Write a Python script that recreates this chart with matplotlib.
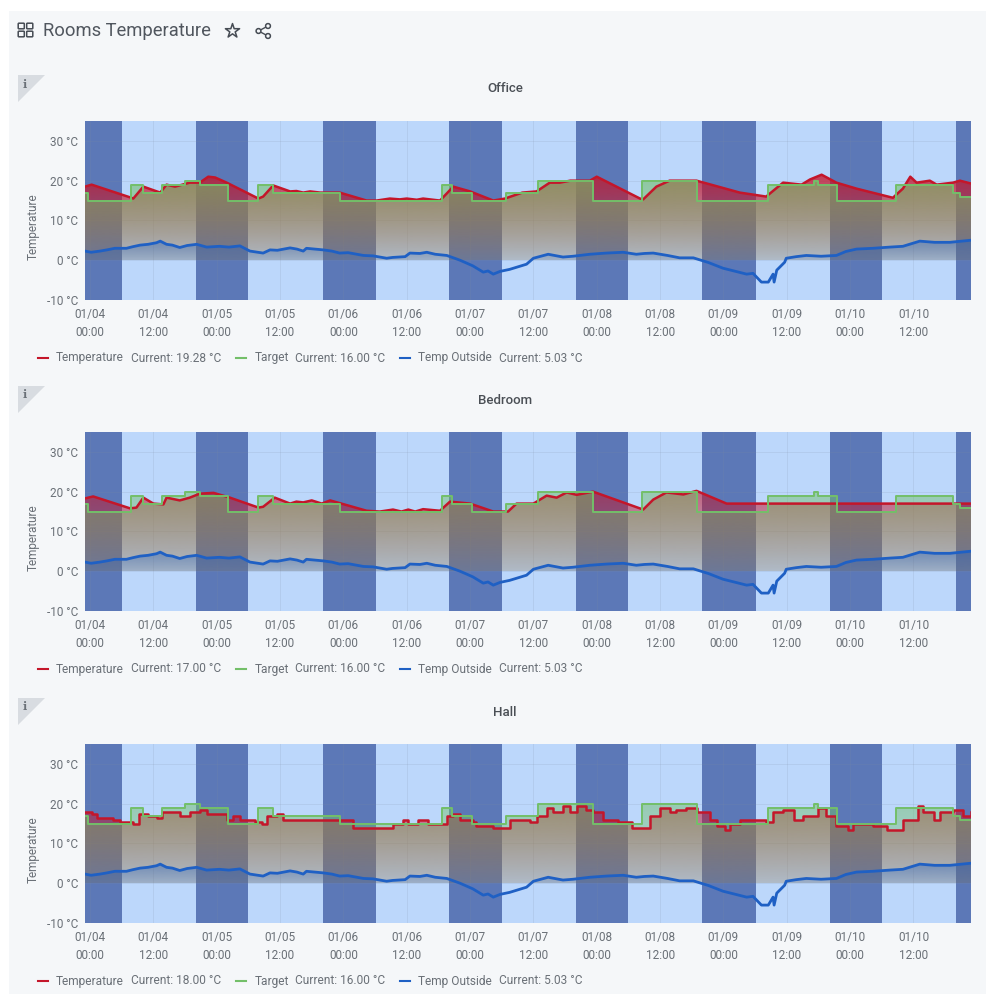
import numpy as np
from matplotlib import pyplot as plt
from matplotlib.patches import Rectangle, Polygon, FancyBboxPatch, Circle
from matplotlib.path import Path
from matplotlib.colors import to_rgb

plt.rcParams['font.family'] = ['Roboto', 'DejaVu Sans']

# all times are hours after 01/04 00:00
tick_hours = [0, 12, 24, 36, 48, 60, 72, 84, 96, 108, 120, 132, 144, 156]
tick_labels = ['01/04\n00:00', '01/04\n12:00', '01/05\n00:00', '01/05\n12:00', '01/06\n00:00',
               '01/06\n12:00', '01/07\n00:00', '01/07\n12:00', '01/08\n00:00', '01/08\n12:00',
               '01/09\n00:00', '01/09\n12:00', '01/10\n00:00', '01/10\n12:00']
night_start = [-3.9, 20.1, 44.1, 68.1, 92.1, 116.0, 140.1, 164.1]
night_end = [6.1, 30.0, 54.1, 78.0, 102.0, 126.1, 150.0, 174.0]

target_t = [-0.95, -0.3, 7.7, 10.1, 13.6, 18, 20.8, 26.2, 31.9, 34.7, 47.3, 66.6, 68.5, 72.3, 78.8,
            84.9, 95.3, 104.5, 114.9, 128.5, 137.1, 138, 141.5, 152.7, 163.5, 164.8, 166.9]
target_v = [16.8, 15, 19, 17, 19, 20, 19, 15, 19, 17, 15, 19, 17, 15, 17,
            20, 15, 20, 15, 19, 20, 19, 15, 19, 17, 16, 16]

outside_t = [-0.95, 0.2, 1.9, 3.2, 4.7, 6.9, 8.1, 9.5, 11, 12.6, 13.3, 14.5, 15.6, 17, 18.4, 20.2, 22.1,
             24.5, 26.3, 28.4, 30.3, 32.8, 34.1, 35.5, 37.9, 39.2, 40.4, 41, 44.2, 45.8, 47.3, 48.9,
             51.8, 53.6, 56.2, 57.3, 59.7, 60.6, 62.5, 63.8, 65.4, 67.6, 70.1, 72.5, 74.5, 75.4, 76.4,
             77.7, 79.5, 82.7, 84, 86.8, 89.6, 91.5, 94.7, 97.8, 101, 103.5, 105, 106.7, 109.4, 111.7,
             114.3, 117.2, 119.9, 122.3, 124.4, 125.6, 127.2, 128.5, 129.4, 129.6, 130.1, 131.6, 131.9,
             133.8, 135.7, 138.5, 141.4, 143.2, 145.2, 148.3, 151.5, 154, 157.2, 160, 162.9, 166.9]
outside_v = [2.3, 2, 2.3, 2.6, 3, 3, 3.4, 3.8, 4, 4.4, 4.8, 4, 3.8, 3.2, 3.7, 4, 3.3,
             3.5, 3.3, 3.6, 2.3, 1.8, 2.6, 2.5, 3.1, 2.8, 2.3, 3, 2.6, 2.3, 1.8, 1.9,
             1.2, 1.1, 0.5, 0.7, 0.9, 1.8, 1.7, 2, 1.5, 1.2, 0, -1.4, -3, -2.7, -3.5,
             -2.8, -2.3, -1, 0.5, 1.5, 0.8, 1, 1.5, 1.8, 2, 1.5, 1.7, 1.8, 1.2, 0.6,
             0.6, -0.6, -2, -2.8, -3.5, -3.3, -5.5, -5.5, -3.5, -5.5, -2.5, -0.5, 0.5,
             0.9, 1.2, 1, 1.2, 2.2, 2.8, 3, 3.3, 3.5, 4.8, 4.5, 4.5, 5.03]

office_t = [-0.95, 0.3, 7.6, 8.2, 10.1, 13.3, 14.5, 16.1, 18.9, 20.8, 22.4, 23.7, 25.9, 31.9, 32.8,
            34.7, 37.9, 39.1, 40.4, 41.7, 43.6, 47.3, 52.4, 54.3, 56.8, 58.7, 60, 61.9, 63.1, 66.3,
            67.6, 68.8, 72, 76.4, 78.6, 81.9, 84.6, 87.1, 89, 91, 94.7, 96, 104.2, 104.8, 107.3,
            109.8, 114.9, 123.1, 128.1, 131.3, 134.8, 136.4, 138.6, 141.4, 145.2, 152.1, 154, 155.4,
            156.6, 159.1, 160.4, 163.5, 164.8, 166.9]
office_v = [18.5, 19, 15.8, 15.5, 18.5, 17, 19, 18.5, 19.5, 19.5, 21, 20.8, 19.5, 15.5, 16,
            18.8, 17.3, 17.4, 17, 17.3, 17, 17, 15, 15, 15.5, 15.3, 15.5, 15.2, 15.5, 15,
            16.8, 18.5, 17.3, 15, 15.5, 17, 17.3, 19.5, 19.5, 20, 20, 21, 15.5, 15.3, 18.5,
            20, 20, 17, 16, 19.5, 19, 20.3, 21.5, 19.5, 18, 15.7, 18, 21,
            19.5, 20, 19, 19.5, 20, 19.28]

bedroom_t = [-0.95, 0.6, 7.6, 8.8, 10.1, 12, 13.9, 14.5, 17, 18.9, 20.8, 23.4, 26.5, 31.9, 32.8,
             35, 37.9, 39.1, 40.4, 42, 43.9, 45.5, 52.4, 54.9, 57.4, 59, 60.3, 61.6, 63.1, 66.3,
             68.2, 72, 76.4, 78.6, 79.2, 80.8, 84, 86.5, 88.4, 90.3, 92.2, 95.3, 104.8, 106.7,
             109.2, 112.4, 114.9, 120.6, 166.9]
bedroom_v = [18.3, 18.8, 15.8, 16, 18.5, 17, 16.8, 18.5, 17.8, 18.5, 19.5, 19.7, 18.5, 16, 16.2,
             18.5, 17, 17.5, 17.3, 17.8, 17, 17.8, 15.2, 15, 15.5, 15, 15.5, 15, 15.6, 15.2,
             17.5, 17, 15, 15, 15, 17, 17, 19, 18.5, 19.8, 19.2, 20, 15.5, 18,
             19.8, 19.3, 20.2, 17, 17]

hall_t = [-0.95, 0.3, 1.3, 4.4, 5.7, 8.2, 9.2, 11, 12.6, 13.6, 15.2, 17, 18.9, 20.8, 22.1, 24, 25.9,
          27.1, 28.4, 31.3, 32.5, 33.5, 35.4, 36.6, 47.3, 49.9, 56.2, 57.4, 59.3, 60.3, 62.2, 64.1,
          66.3, 67.6, 68.8, 70.1, 72.6, 73.2, 76.4, 78.6, 79.5, 83.3, 84.6, 86.5, 87.8, 89.6, 90.9,
          92.2, 94, 95.3, 97.2, 100, 102.6, 104.8, 106.1, 108, 109.8, 111.1, 113, 114.9, 117.4, 118.7,
          120.3, 121.2, 123.1, 126.9, 128.1, 129.4, 131.3, 133.3, 135, 137.9, 139.5, 141.4, 143.6,
          144.6, 148.4, 150.9, 153.1, 154, 156.9, 157.9, 159.8, 161, 163.5, 165.4, 166.9]
hall_v = [18, 17.5, 16.5, 16, 15.5, 15, 17.5, 17, 16.5, 18, 18, 17, 18, 18.5, 17.5, 17.5, 16,
          17, 16, 15.5, 15, 17, 17.5, 16, 16, 14, 14, 15, 16, 15, 16, 15,
          15, 17, 17.5, 16, 15.5, 14.5, 14, 14, 16, 15.5, 17, 19, 18, 19.5, 18,
          19.5, 18.5, 18, 16, 15.5, 14, 14, 17, 19, 18, 18.5, 19, 18, 16, 14.5,
          13.5, 15, 16, 16, 15.5, 18, 18.5, 16, 17, 19, 17, 14.5, 13.5,
          15, 14.5, 13.5, 13.5, 16, 19.5, 18, 16, 18, 18.5, 17, 18]

panels = ['Office', 'Bedroom', 'Hall']
current_temp = ['19.28', '17.00', '18.00']
current_target = '16.00'
current_outside = '5.03'

RED = '#c4162a'
GREEN = '#73bf69'
BLUE = '#1f60c4'
TXT = '#6a7077'
temp_alpha = [0.8, 0.6, 0.58]
target_alpha = [0.62, 0.5, 0.5]


def grad_fill(ax, t, v, color, a_top, a_bot, step=None):
    t = np.array(t, dtype=float)
    v = np.array(v, dtype=float)
    poly = ax.fill_between(t, 0, v, where=v >= 0, interpolate=True, step=step, color='none', lw=0)
    path = Path.make_compound_path(*poly.get_paths())
    top = v.max()
    rgba = np.zeros((256, 1, 4))
    rgba[:, :, :3] = to_rgb(color)
    rgba[:, 0, 3] = np.linspace(a_top, a_bot, 256)
    im = ax.imshow(rgba, extent=(t[0], t[-1], 0, top), aspect='auto', origin='upper', zorder=3)
    im.set_clip_path(path, transform=ax.transData)


fig = plt.figure(figsize=(9.87, 9.94), dpi=100, facecolor='white')

# page background, header and panel decorations in pixel coordinates
bg = fig.add_axes([0, 0, 1, 1], zorder=-1)
bg.set_xlim(0, 987)
bg.set_ylim(994, 0)
bg.axis('off')
bg.add_patch(Rectangle((9, 11), 978, 983, color='#f5f7f9', lw=0))

for x0, y0 in [(18, 23), (26.5, 23), (18, 31), (26.5, 31)]:
    bg.add_patch(FancyBboxPatch((x0 + 1, y0 + 1), 4.5, 4, boxstyle='round,pad=0.8', fc='none',
                                ec='#464c54', lw=1.1))
bg.text(43, 31, 'Rooms Temperature', fontsize=13.2, color='#50565e', va='center')
bg.scatter([232.5], [31], marker='*', s=115, fc='none', ec='#464c54', lw=1.1)
bg.plot([268, 258.5, 268], [26, 31, 36], color='#464c54', lw=1)
for cx, cy in [(268, 26), (258.5, 31), (268, 36)]:
    bg.add_patch(Circle((cx, cy), 2.4, fc='#f5f7f9', ec='#464c54', lw=1.1, zorder=4))

tops = [121, 432, 744]
for i, name in enumerate(panels):
    top = tops[i]
    bottom = top + 179
    bg.add_patch(Polygon([(18, top - 46), (45, top - 46), (18, top - 19)], color='#d8dce1', lw=0))
    bg.text(25, top - 37, 'i', fontsize=8, color='#6a7077', ha='center', va='center', family='DejaVu Serif',
            fontweight='bold')
    bg.text(505, top - 32, name, fontsize=9.5, color='#4a4f55', ha='center', va='center', fontweight='medium')

    ly = bottom + 58
    bg.plot([38, 48], [ly, ly], color=RED, lw=1.5)
    bg.text(56, ly, 'Temperature', fontsize=8.6, color=TXT, va='center')
    bg.text(131, ly, 'Current: %s °C' % current_temp[i], fontsize=8.6, color=TXT, va='center')
    bg.plot([236, 246], [ly, ly], color=GREEN, lw=1.5)
    bg.text(255, ly, 'Target', fontsize=8.6, color=TXT, va='center')
    bg.text(295, ly, 'Current: %s °C' % current_target, fontsize=8.6, color=TXT, va='center')
    bg.plot([400, 410], [ly, ly], color=BLUE, lw=1.5)
    bg.text(418, ly, 'Temp Outside', fontsize=8.6, color=TXT, va='center')
    bg.text(499, ly, 'Current: %s °C' % current_outside, fontsize=8.6, color=TXT, va='center')

    ax = fig.add_axes([85 / 987, 1 - bottom / 994, 886 / 987, 179 / 994])
    ax.set_facecolor('#bcd7fb')
    for a, b in zip(night_start, night_end):
        ax.axvspan(a, b, color='#5c78b7', lw=0, zorder=1)
    ax.set_xticks(tick_hours)
    ax.set_xticklabels(tick_labels, fontsize=8.5, color=TXT, linespacing=1.42)
    ax.set_yticks([-10, 0, 10, 20, 30])
    ax.set_yticklabels(['-10 °C', '0 °C', '10 °C', '20 °C', '30 °C'], fontsize=8.5, color=TXT)
    ax.tick_params(axis='x', length=0, pad=6)
    ax.tick_params(axis='y', length=0, pad=5)
    ax.grid(color='#7f8ca3', alpha=0.16, lw=0.7, zorder=2)
    ax.set_axisbelow(False)
    for s in ax.spines.values():
        s.set_visible(False)
    ax.text(-0.0587, 0.412, 'Temperature', transform=ax.transAxes, rotation=90, fontsize=8.5,
            color=TXT, ha='center', va='center')

    if name == 'Office':
        temp_t, temp_v, draw = office_t, office_v, None
    elif name == 'Bedroom':
        temp_t, temp_v, draw = bedroom_t, bedroom_v, None
    else:
        temp_t, temp_v, draw = hall_t, hall_v, 'post'

    grad_fill(ax, temp_t, temp_v, RED, temp_alpha[i], 0.15, step=draw)
    grad_fill(ax, target_t, target_v, GREEN, target_alpha[i], 0.18, step='post')
    grad_fill(ax, outside_t, outside_v, BLUE, 0.42, 0.12)

    ax.plot(temp_t, temp_v, color=RED, lw=1.8, zorder=4,
            drawstyle='steps-post' if draw else 'default')
    ax.plot(target_t, target_v, color=GREEN, lw=1.4, zorder=5, drawstyle='steps-post')
    ax.plot(outside_t, outside_v, color=BLUE, lw=2, zorder=6)

    ax.set_xlim(-0.95, 166.9)
    ax.set_ylim(-10, 35)

fig.savefig('out.png', dpi=100, facecolor=fig.get_facecolor())
